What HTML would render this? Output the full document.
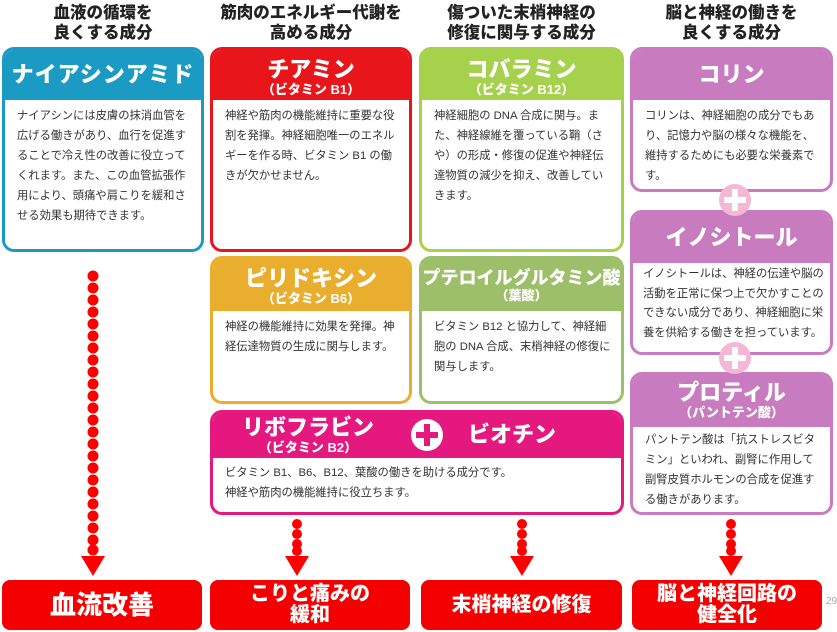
<!DOCTYPE html>
<html><head><meta charset="utf-8"><style>
*{margin:0;padding:0;box-sizing:border-box}
body{width:837px;height:632px;background:#fff;position:relative;overflow:hidden;font-family:"Liberation Sans","Noto Sans CJK JP",sans-serif}
.t{position:absolute;text-align:center;font-weight:900;font-size:16.5px;line-height:20px;color:#222}
.box{position:absolute;border:3px solid;border-radius:12px;background:#fff;overflow:hidden}
.hd{color:#fff;text-align:center;font-weight:900}
.hd .m{font-size:22px;line-height:26px;display:block}
.hd .s{font-size:13px;line-height:14px;display:block}
.bd{font-size:11.3px;line-height:20px;color:#333;padding:6px 10px 0 12px}
.out{position:absolute;top:580px;height:50px;background:#f40000;border-radius:8px;color:#fff;font-weight:900;text-align:center;display:flex;align-items:center;justify-content:center;line-height:21px}
.plus{position:absolute;width:32px;height:32px;border-radius:50%;background:#f4b8d6}
.plus:before,.plus:after{content:"";position:absolute;background:#fff}
.plus:before{left:13px;top:5px;width:6px;height:22px}
.plus:after{left:5px;top:13px;width:22px;height:6px}
</style></head><body>
<div class="t" style="left:2px;width:202px;top:3px">血液の循環を<br>良くする成分</div>
<div class="t" style="left:210px;width:202px;top:3px">筋肉のエネルギー代謝を<br>高める成分</div>
<div class="t" style="left:419px;width:205px;top:3px">傷ついた末梢神経の<br>修復に関与する成分</div>
<div class="t" style="left:630px;width:203px;top:3px">脳と神経の働きを<br>良くする成分</div>

<div class="box" style="left:2px;top:47px;width:202px;height:205px;border-color:#1b9bc3">
<div class="hd" style="background:#1b9bc3;height:50px;padding-top:12px"><span class="m" style="letter-spacing:1px">ナイアシンアミド</span></div>
<div class="bd">ナイアシンには皮膚の抹消血管を広げる働きがあり、血行を促進することで冷え性の改善に役立ってくれます。また、この血管拡張作用により、頭痛や肩こりを緩和させる効果も期待できます。</div></div>

<div class="box" style="left:210px;top:47px;width:202px;height:205px;border-color:#e8161b">
<div class="hd" style="background:#e8161b;height:50px;padding-top:7px"><span class="m">チアミン</span><span class="s">（ビタミン B1）</span></div>
<div class="bd">神経や筋肉の機能維持に重要な役割を発揮。神経細胞唯一のエネルギーを作る時、ビタミン B1 の働きが欠かせません。</div></div>

<div class="box" style="left:419px;top:47px;width:205px;height:205px;border-color:#a6d14c">
<div class="hd" style="background:#a6d14c;height:50px;padding-top:7px"><span class="m">コバラミン</span><span class="s">（ビタミン B12）</span></div>
<div class="bd">神経細胞の DNA 合成に関与。また、神経線維を覆っている鞘（さや）の形成・修復の促進や神経伝達物質の減少を抑え、改善していきます。</div></div>

<div class="box" style="left:630px;top:47px;width:203px;height:145px;border-color:#c87cbf">
<div class="hd" style="background:#c87cbf;height:50px;padding-top:12px"><span class="m">コリン</span></div>
<div class="bd">コリンは、神経細胞の成分でもあり、記憶力や脳の様々な機能を、維持するためにも必要な栄養素です。</div></div>

<div class="box" style="left:630px;top:210px;width:203px;height:145px;border-color:#c87cbf">
<div class="hd" style="background:#c87cbf;height:50px;padding-top:12px"><span class="m">イノシトール</span></div>
<div class="bd" style="padding-top:2px;line-height:19.5px;padding-right:6px;padding-left:10px">イノシトールは、神経の伝達や脳の活動を正常に保つ上で欠かすことのできない成分であり、神経細胞に栄養を供給する働きを担っています。</div></div>

<div class="box" style="left:630px;top:372px;width:203px;height:143px;border-color:#c87cbf">
<div class="hd" style="background:#c87cbf;height:52px;padding-top:5px"><span class="m">プロティル</span><span class="s">（パントテン酸）</span></div>
<div class="bd" style="padding-top:3px">パントテン酸は「抗ストレスビタミン」といわれ、副腎に作用して副腎皮質ホルモンの合成を促進する働きがあります。</div></div>

<div class="plus" style="left:719px;top:184px"></div>
<div class="plus" style="left:719px;top:342px"></div>

<div class="box" style="left:210px;top:256px;width:202px;height:148px;border-color:#eaae2e">
<div class="hd" style="background:#eaae2e;height:52px;padding-top:7px"><span class="m">ピリドキシン</span><span class="s">（ビタミン B6）</span></div>
<div class="bd">神経の機能維持に効果を発揮。神経伝達物質の生成に関与します。</div></div>

<div class="box" style="left:419px;top:256px;width:205px;height:148px;border-color:#9dbf6a">
<div class="hd" style="background:#9dbf6a;height:52px;padding-top:8px"><span class="m" style="font-size:18px;line-height:22px;white-space:nowrap">プテロイルグルタミン酸</span><span class="s">（葉酸）</span></div>
<div class="bd">ビタミン B12 と協力して、神経細胞の DNA 合成、末梢神経の修復に関与します。</div></div>

<div class="box" style="left:210px;top:410px;width:414px;height:105px;border-color:#e5187f">
<div class="hd" style="background:#e5187f;height:45px;position:relative">
<div style="position:absolute;left:20px;top:2px;width:150px"><span class="m">リボフラビン</span><span class="s">（ビタミン B2）</span></div>
<div style="position:absolute;left:198px;top:6px;width:32px;height:32px;border-radius:50%;background:#fff">
<div style="position:absolute;left:13px;top:5px;width:6px;height:22px;background:#e5187f"></div>
<div style="position:absolute;left:5px;top:13px;width:22px;height:6px;background:#e5187f"></div></div>
<div style="position:absolute;left:255px;top:9px"><span class="m">ビオチン</span></div>
</div>
<div class="bd" style="padding-top:5px">ビタミン B1、B6、B12、葉酸の働きを助ける成分です。<br>神経や筋肉の機能維持に役立ちます。</div></div>

<svg width="837" height="632" style="position:absolute;left:0;top:0" xmlns="http://www.w3.org/2000/svg">
<g fill="#f00">
<circle cx="93" cy="276" r="5.5"/><circle cx="93" cy="288" r="5.5"/><circle cx="93" cy="300" r="5.5"/><circle cx="93" cy="312" r="5.5"/><circle cx="93" cy="324" r="5.5"/><circle cx="93" cy="336" r="5.5"/><circle cx="93" cy="348" r="5.5"/><circle cx="93" cy="360" r="5.5"/><circle cx="93" cy="372" r="5.5"/><circle cx="93" cy="384" r="5.5"/><circle cx="93" cy="396" r="5.5"/><circle cx="93" cy="408" r="5.5"/><circle cx="93" cy="420" r="5.5"/><circle cx="93" cy="432" r="5.5"/><circle cx="93" cy="444" r="5.5"/><circle cx="93" cy="456" r="5.5"/><circle cx="93" cy="468" r="5.5"/><circle cx="93" cy="480" r="5.5"/><circle cx="93" cy="492" r="5.5"/><circle cx="93" cy="504" r="5.5"/><circle cx="93" cy="516" r="5.5"/><circle cx="93" cy="528" r="5.5"/><circle cx="93" cy="540" r="5.5"/><circle cx="93" cy="550" r="5.5"/>
<polygon points="81,556 105,556 93,576"/>
<circle cx="297" cy="524" r="5"/><circle cx="297" cy="534" r="5"/><circle cx="297" cy="544" r="5"/><circle cx="297" cy="551" r="5"/><polygon points="285,556 309,556 297,576"/>
<circle cx="522" cy="524" r="5"/><circle cx="522" cy="534" r="5"/><circle cx="522" cy="544" r="5"/><circle cx="522" cy="551" r="5"/><polygon points="510,556 534,556 522,576"/>
<circle cx="731" cy="524" r="5"/><circle cx="731" cy="534" r="5"/><circle cx="731" cy="544" r="5"/><circle cx="731" cy="551" r="5"/><polygon points="719,556 743,556 731,576"/>
</g>
<text x="826" y="604" font-size="10" fill="#aaa" font-family="Liberation Sans">29</text>
</svg>

<div class="out" style="left:2px;width:200px;font-size:26px">血流改善</div>
<div class="out" style="left:210px;width:200px;font-size:20px">こりと痛みの<br>緩和</div>
<div class="out" style="left:421px;width:201px;font-size:20px">末梢神経の修復</div>
<div class="out" style="left:632px;width:190px;font-size:20px">脳と神経回路の<br>健全化</div>
</body></html>
